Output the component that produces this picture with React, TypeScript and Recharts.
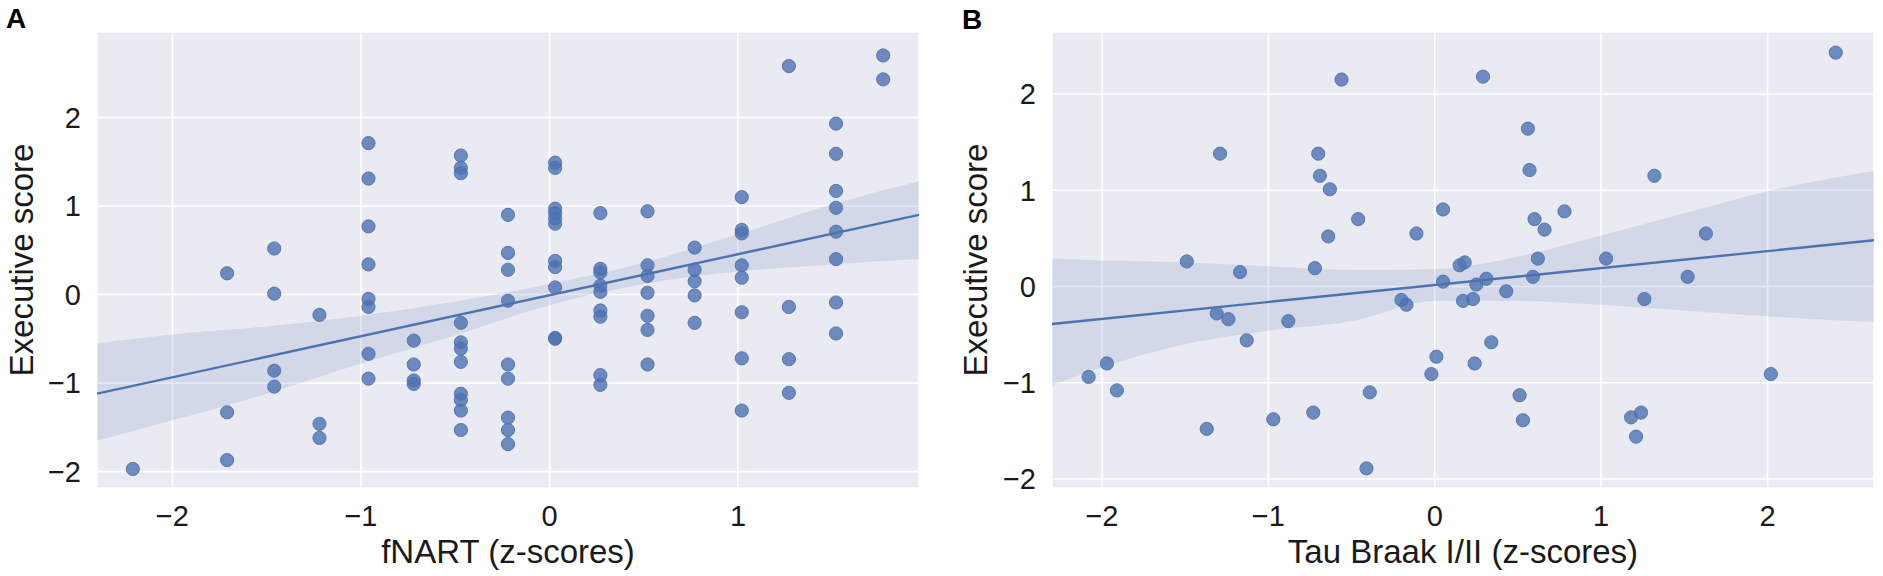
import React from "react";
import {
  ComposedChart,
  Scatter,
  Line,
  Area,
  XAxis,
  YAxis,
  CartesianGrid,
  Label,
} from "recharts";

// Panel A: fNART z-scores come in discrete levels, executive scores per level
const fnartLevels = [
  -2.21, -1.71, -1.46, -1.22, -0.96, -0.72, -0.47, -0.22, 0.03, 0.27, 0.52,
  0.77, 1.02, 1.27, 1.52, 1.77,
];
const execByFnartLevel = [
  [-1.97],
  [0.24, -1.33, -1.87],
  [0.52, 0.01, -0.86, -1.04],
  [-0.23, -1.46, -1.62],
  [1.71, 1.31, 0.77, 0.34, -0.05, -0.14, -0.67, -0.95],
  [-0.52, -0.79, -0.97, -1.01],
  [1.57, 1.43, 1.37, -0.32, -0.54, -0.61, -0.76, -1.12, -1.19, -1.31, -1.53],
  [0.9, 0.47, 0.28, -0.07, -0.79, -0.95, -1.39, -1.53, -1.69],
  [1.49, 1.43, 0.97, 0.92, 0.86, 0.8, 0.38, 0.31, 0.08, -0.49, -0.5],
  [0.92, 0.29, 0.25, 0.1, 0.03, -0.18, -0.25, -0.91, -1.02],
  [0.94, 0.33, 0.21, 0.02, -0.24, -0.4, -0.79],
  [0.53, 0.28, 0.15, -0.01, -0.32],
  [1.1, 0.73, 0.69, 0.33, 0.19, -0.2, -0.72, -1.31],
  [2.58, -0.14, -0.73, -1.11],
  [1.93, 1.59, 1.17, 0.98, 0.71, 0.4, -0.09, -0.44],
  [2.7, 2.43],
];
const fitAX = [-2.4, 1.96];
const fitAY = [-1.12, 0.9];
const bandAX = [-2.4, -2.0, -1.5, -1.0, -0.5, 0.0, 0.5, 1.0, 1.5, 1.96];
const bandALow = [-1.65, -1.42, -1.12, -0.78, -0.46, -0.12, 0.12, 0.26, 0.34, 0.4];
const bandAHigh = [-0.55, -0.45, -0.36, -0.24, -0.08, 0.12, 0.36, 0.68, 1.02, 1.28];

// Panel B: Tau Braak I/II vs executive score
const tauScores = [
  -0.56, -1.29, -0.7, -0.69, -0.63, -0.46, -0.64, -0.11, 0.05, -1.49, -1.17,
  -0.72, 0.05, -0.2, -0.17, -1.31, -1.24, -0.88, -1.13, -1.97, -2.08, -1.91,
  0.01, -0.02, -0.39, -0.97, -0.73, -1.37, -0.41, 2.41, 0.29, 0.56, 0.57, 1.32,
  0.78, 0.6, 0.66, 1.63, 0.15, 0.18, 0.62, 1.03, 0.31, 0.25, 0.59, 1.52, 0.17,
  0.23, 0.43, 1.26, 0.34, 0.24, 2.02, 0.51, 0.53, 1.18, 1.24, 1.21,
];
const execScoresB = [
  2.15, 1.38, 1.38, 1.15, 1.01, 0.7, 0.52, 0.55, 0.8, 0.26, 0.15, 0.19, 0.05,
  -0.14, -0.19, -0.28, -0.34, -0.36, -0.56, -0.8, -0.94, -1.08, -0.73, -0.91,
  -1.1, -1.38, -1.31, -1.48, -1.89, 2.43, 2.18, 1.64, 1.21, 1.15, 0.78, 0.7,
  0.59, 0.55, 0.22, 0.25, 0.29, 0.29, 0.08, 0.02, 0.1, 0.1, -0.15, -0.13, -0.05,
  -0.13, -0.58, -0.8, -0.91, -1.13, -1.39, -1.36, -1.31, -1.56,
];
const fitBX = [-2.3, 2.64];
const fitBY = [-0.39, 0.48];
const bandBX = [-2.3, -2.0, -1.5, -1.0, -0.5, 0.0, 0.5, 1.0, 1.5, 2.0, 2.64];
const bandBLow = [-1.03, -0.84, -0.6, -0.46, -0.36, -0.15, -0.15, -0.19, -0.25, -0.31, -0.37];
const bandBHigh = [0.29, 0.27, 0.25, 0.21, 0.17, 0.18, 0.31, 0.53, 0.76, 0.99, 1.2];

const xTicksA = [-2, -1, 0, 1];
const xTicksB = [-2, -1, 0, 1, 2];
const yTicks = [-2, -1, 0, 1, 2];

const BLUE = "#4C72B0";
const FONT = "'Liberation Sans', Arial, Helvetica, sans-serif";
const INK = "#1a1a1a";

const fmt = (v: number) => (v < 0 ? `\u2212${Math.abs(v)}` : `${v}`);

const Dot = (props: any) => (
  <circle
    cx={props.cx}
    cy={props.cy}
    r={6.6}
    fill={BLUE}
    fillOpacity={0.8}
    stroke={BLUE}
    strokeOpacity={0.9}
    strokeWidth={1}
  />
);

type PanelProps = {
  left: number;
  width: number;
  yAxisWidth: number;
  marginRight: number;
  points: { x: number; y: number }[];
  fit: { x: number; y: number }[];
  band: { x: number; lo: number; hi: number }[];
  xDomain: [number, number];
  yDomain: [number, number];
  xTicks: number[];
  xTitle: string;
  yTitleX: number;
};

const Panel = ({
  left,
  width,
  yAxisWidth,
  marginRight,
  points,
  fit,
  band,
  xDomain,
  yDomain,
  xTicks,
  xTitle,
  yTitleX,
}: PanelProps) => (
  <div style={{ position: "absolute", left, top: 0 }}>
    <ComposedChart
      width={width}
      height={576}
      margin={{ top: 32, right: marginRight, bottom: 0, left: 0 }}
    >
      <CartesianGrid fill="#EAEAF2" stroke="#ffffff" strokeWidth={1.6} />
      <XAxis
        type="number"
        dataKey="x"
        domain={xDomain}
        ticks={xTicks}
        allowDataOverflow
        axisLine={false}
        tickLine={false}
        tickSize={0}
        tickMargin={17}
        height={88}
        tickFormatter={fmt}
        tick={{ fontSize: 29, fill: INK, fontFamily: FONT }}
      >
        <Label
          value={xTitle}
          position="insideBottom"
          offset={13}
          style={{ fontSize: 33, fill: INK, fontFamily: FONT }}
        />
      </XAxis>
      <YAxis
        type="number"
        dataKey="y"
        domain={yDomain}
        ticks={yTicks}
        allowDataOverflow
        axisLine={false}
        tickLine={false}
        tickSize={0}
        tickMargin={16}
        width={yAxisWidth}
        tickFormatter={fmt}
        tick={{ fontSize: 29, fill: INK, fontFamily: FONT }}
      >
        <Label
          content={(p: any) => {
            const vb = p.viewBox || {};
            const cy = (vb.y ?? 32) + (vb.height ?? 456) / 2;
            return (
              <text
                x={yTitleX}
                y={cy}
                transform={`rotate(-90 ${yTitleX} ${cy})`}
                textAnchor="middle"
                dy="0.36em"
                fontSize={33}
                fill={INK}
                fontFamily={FONT}
              >
                Executive score
              </text>
            );
          }}
        />
      </YAxis>
      <Scatter data={points} shape={Dot} isAnimationActive={false} />
      <Area
        data={band}
        dataKey={(d: any) => [d.lo, d.hi]}
        type="monotone"
        stroke="none"
        fill={BLUE}
        fillOpacity={0.15}
        isAnimationActive={false}
      />
      <Line
        data={fit}
        dataKey="y"
        type="linear"
        stroke={BLUE}
        strokeWidth={2.4}
        dot={false}
        activeDot={false}
        isAnimationActive={false}
      />
    </ComposedChart>
  </div>
);

const pointsA = fnartLevels.flatMap((x, i) =>
  execByFnartLevel[i].map((y) => ({ x, y }))
);
const pointsB = tauScores.map((x, i) => ({ x, y: execScoresB[i] }));
const fitA = fitAX.map((x, i) => ({ x, y: fitAY[i] }));
const fitB = fitBX.map((x, i) => ({ x, y: fitBY[i] }));
const bandA = bandAX.map((x, i) => ({ x, lo: bandALow[i], hi: bandAHigh[i] }));
const bandB = bandBX.map((x, i) => ({ x, lo: bandBLow[i], hi: bandBHigh[i] }));

export default function App() {
  return (
    <div
      style={{
        position: "absolute",
        left: 0,
        top: 0,
        width: 1883,
        height: 576,
        background: "#fff",
        fontFamily: FONT,
      }}
    >
      <Panel
        left={0}
        width={940}
        yAxisWidth={97}
        marginRight={21}
        points={pointsA}
        fit={fitA}
        band={bandA}
        xDomain={[-2.4, 1.96]}
        yDomain={[-2.185, 2.965]}
        xTicks={xTicksA}
        xTitle="fNART (z-scores)"
        yTitleX={21}
      />
      <Panel
        left={940}
        width={943}
        yAxisWidth={112}
        marginRight={9}
        points={pointsB}
        fit={fitB}
        band={bandB}
        xDomain={[-2.3, 2.64]}
        yDomain={[-2.094, 2.644]}
        xTicks={xTicksB}
        xTitle="Tau Braak I/II (z-scores)"
        yTitleX={35}
      />
      <svg
        width={1883}
        height={576}
        style={{ position: "absolute", left: 0, top: 0, pointerEvents: "none" }}
      >
        <text x={6} y={28} fontSize={28} fontWeight="bold" fill="#000" fontFamily={FONT}>
          A
        </text>
        <text x={962} y={29} fontSize={28} fontWeight="bold" fill="#000" fontFamily={FONT}>
          B
        </text>
      </svg>
    </div>
  );
}
